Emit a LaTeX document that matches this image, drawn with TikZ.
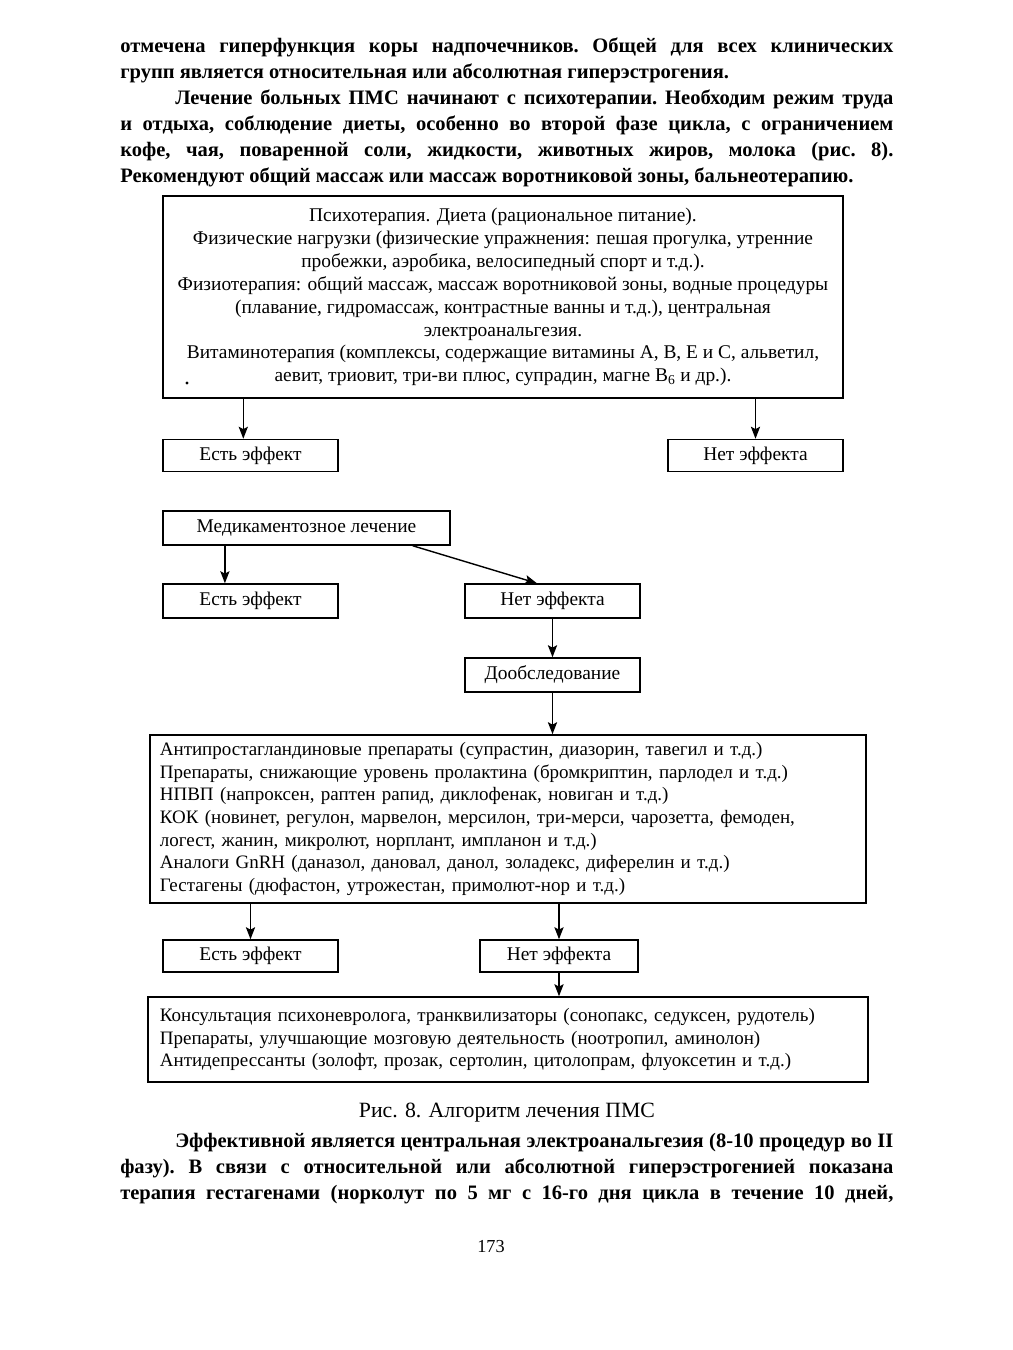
\documentclass[tikz,border=0pt]{standalone}
\usepackage{fontspec}
\setmainfont{Liberation Serif}
\usetikzlibrary{arrows.meta,positioning}

\tikzset{
  box/.style={draw, line width=1.1pt, minimum height=0.8cm, inner sep=0pt,
    font=\fontsize{13.8}{16.3}\selectfont},
  smallbox/.style={box, minimum width=4.375cm, minimum height=0.8cm},
  listbox/.style={box, text width=17.4cm, inner xsep=0.25cm, align=left,
    font=\fontsize{13.5}{16.1}\selectfont},
  arr/.style={-{Stealth[length=3mm,width=2.3mm,inset=0.6mm]}, line width=1pt},
  bodytext/.style={anchor=base west, text width=19.325cm, align=justify, inner sep=0pt,
    font=\fontsize{14.6}{18.6}\selectfont\bfseries\frenchspacing},
}

\begin{document}
\begin{tikzpicture}[x=0.025cm, y=-0.025cm]
  \useasboundingbox[fill=white] (0,0) rectangle (1013,1350);

  % text before the figure
  \node[bodytext] (para_a) at (120,52) {отмечена гиперфункция коры надпочечников. Общей для всех клинических\linebreak
    групп является относительная или абсолютная гиперэстрогения.};
  \node[bodytext] (para_b) at (120,104) {\hspace*{1.375cm}Лечение больных ПМС начинают с психотерапии. Необходим режим труда\linebreak
    и отдыха, соблюдение диеты, особенно во второй фазе цикла, с ограничением\linebreak
    кофе, чая, поваренной соли, жидкости, животных жиров, молока (рис.~8).\linebreak
    Рекомендуют общий массаж или массаж воротниковой зоны, бальнеотерапию.};

  % first step
  \node[box, minimum width=17cm, minimum height=5.05cm, align=center] (therapy) at (503,297)
    {Психотерапия. Диета (рациональное питание).\\
     Физические нагрузки (физические упражнения: пешая прогулка, утренние\\
     пробежки, аэробика, велосипедный спорт и т.д.).\\
     Физиотерапия: общий массаж, массаж воротниковой зоны, водные процедуры\\
     (плавание, гидромассаж, контрастные ванны и т.д.), центральная\\
     электроанальгезия.\\
     Витаминотерапия (комплексы, содержащие витамины A, B, E и C, альветил,\\
     аевит, триовит, три-ви плюс, супрадин, магне B\textsubscript{6} и др.).};
  \fill (187,383) circle (1.2pt);

  \node[smallbox] (yes_a) at (250.5,455.5) {Есть эффект};
  \node[smallbox] (no_a) at (755.5,455.5) {Нет эффекта};
  \draw[arr] ([xshift=-0.18cm]yes_a.north |- therapy.south) -- ([xshift=-0.18cm]yes_a.north);
  \draw[arr] (no_a.north |- therapy.south) -- (no_a.north);

  % drugs
  \node[box, minimum width=7.175cm, minimum height=0.85cm] (meds) at (306.5,528) {Медикаментозное лечение};
  \node[smallbox, minimum height=0.85cm] (yes_b) at (250.5,601) {Есть эффект};
  \node[smallbox, minimum height=0.85cm] (no_b) at (552.5,601) {Нет эффекта};
  \node[smallbox, minimum height=0.85cm] (exam) at (552.5,675) {Дообследование};
  \draw[arr] ([xshift=-0.64cm]yes_b.north |- meds.south) -- ([xshift=-0.64cm]yes_b.north);
  \draw[arr] ([xshift=-0.95cm]meds.south east) -- ([xshift=-0.39cm]no_b.north);
  \draw[arr] (no_b.south) -- (exam.north);

  \node[listbox, minimum height=4.2cm] (drugs) at (508,819)
    {Антипростагландиновые препараты (супрастин, диазорин, тавегил и т.д.)\\
     Препараты, снижающие уровень пролактина (бромкриптин, парлодел и т.д.)\\
     НПВП (напроксен, раптен рапид, диклофенак, новиган и т.д.)\\
     КОК (новинет, регулон, марвелон, мерсилон, три-мерси, чарозетта, фемоден,\\
     логест, жанин, микролют, норплант, импланон и т.д.)\\
     Аналоги GnRH (даназол, дановал, данол, золадекс, диферелин и т.д.)\\
     Гестагены (дюфастон, утрожестан, примолют-нор и т.д.)};
  \draw[arr] (exam.south) -- (exam.south |- drugs.north);

  \node[smallbox] (yes_c) at (250.5,956) {Есть эффект};
  \node[smallbox, minimum width=3.95cm] (no_c) at (559,956) {Нет эффекта};
  \draw[arr] (yes_c.north |- drugs.south) -- (yes_c.north);
  \draw[arr] (no_c.north |- drugs.south) -- (no_c.north);

  \node[listbox, inner xsep=0.3cm, minimum height=2.125cm] (psych) at (508,1039.5)
    {Консультация психоневролога, транквилизаторы (сонопакс, седуксен, рудотель)\\
     Препараты, улучшающие мозговую деятельность (ноотропил, аминолон)\\
     Антидепрессанты (золофт, прозак, сертолин, цитолопрам, флуоксетин и т.д.)};
  \draw[arr] (no_c.south) -- (no_c.south |- psych.north);

  % caption and text after the figure
  \node[font=\fontsize{15.5}{18.6}\selectfont, anchor=base] (caption) at (507,1117) {Рис. 8. Алгоритм лечения ПМС};
  \node[bodytext] (para_c) at (120,1147) {\hspace*{1.375cm}Эффективной является центральная электроанальгезия (8-10 процедур во~II\linebreak
    фазу). В связи с относительной или абсолютной гиперэстрогенией показана\linebreak
    терапия гестагенами (норколут по 5 мг с 16-го дня цикла в течение 10 дней,\linebreak};
  \node[font=\fontsize{13}{15}\selectfont, anchor=base] (page_no) at (491,1252) {173};
\end{tikzpicture}
\end{document}
